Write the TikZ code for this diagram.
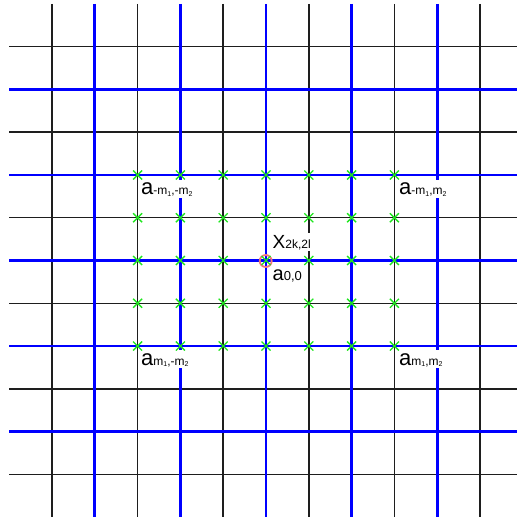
\documentclass[tikz,border=0pt]{standalone}
\usepackage{fontspec}
\setmainfont{Liberation Sans}
\newcommand\tinysub[1]{\raisebox{-1.2pt}{\fontsize{7}{7}\selectfont #1}}
\newcommand\fs[1]{\fontsize{#1}{#1}\selectfont}
\begin{document}
\begin{tikzpicture}[x=1pt,y=-1pt,
  thingrid/.style={draw={rgb,255:red,30;green,30;blue,30}, line width=1.5pt},
  thickgrid/.style={draw={rgb,255:red,0;green,0;blue,255}, line width=2.8pt},
  lbl/.style={fill=white, inner sep=0pt, anchor=base west, text height=15pt, text depth=3pt},
  crs/.style={draw={rgb,255:red,30;green,230;blue,30}, line width=1.3pt},
  ring/.style={draw={rgb,255:red,240;green,120;blue,120}, line width=1.8pt}]
\useasboundingbox (0,0) rectangle (517,521);
% thin black grid lines
\foreach \i in {0,2,...,10} {
  \draw[thingrid] ({52+42.8*\i},4) -- ({52+42.8*\i},517);
  \draw[thingrid] (9,{46.7+42.76*\i}) -- (517,{46.7+42.76*\i});
}
% thick blue grid lines
\foreach \i in {1,3,...,9} {
  \draw[thickgrid] ({52+42.8*\i},4) -- ({52+42.8*\i},517);
  \draw[thickgrid] (9,{46.7+42.76*\i}) -- (517,{46.7+42.76*\i});
}
% labels
\node[lbl] (amm) at (141,195) {\fs{22}a\fs{12}-m\tinysub{1},-m\tinysub{2}};
\node[lbl] (amp) at (399,195) {\fs{22}a\fs{12}-m\tinysub{1},m\tinysub{2}};
\node[lbl] (apm) at (141,365) {\fs{22}a\fs{12}m\tinysub{1},-m\tinysub{2}};
\node[lbl] (app) at (399,365) {\fs{22}a\fs{12}m\tinysub{1},m\tinysub{2}};
\node[lbl] (xkl) at (272.5,248) {\fs{19}X\fs{12}2k,2l};
\node[lbl] (a00) at (272.5,280) {\fs{20}a\fs{13}0,0};
% red ring at the centre
\draw[ring] (265.7,261) circle (6pt);
% green crosses
\foreach \i in {2,...,8} {
  \foreach \j in {3,...,7} {
    \pgfmathsetmacro\cx{52+42.8*\i}
    \pgfmathsetmacro\cy{46.7+42.76*\j}
    \draw[crs] (\cx-4.5,\cy-4.5) -- (\cx+4.5,\cy+4.5)
               (\cx-4.5,\cy+4.5) -- (\cx+4.5,\cy-4.5);
  }
}
\end{tikzpicture}
\end{document}
